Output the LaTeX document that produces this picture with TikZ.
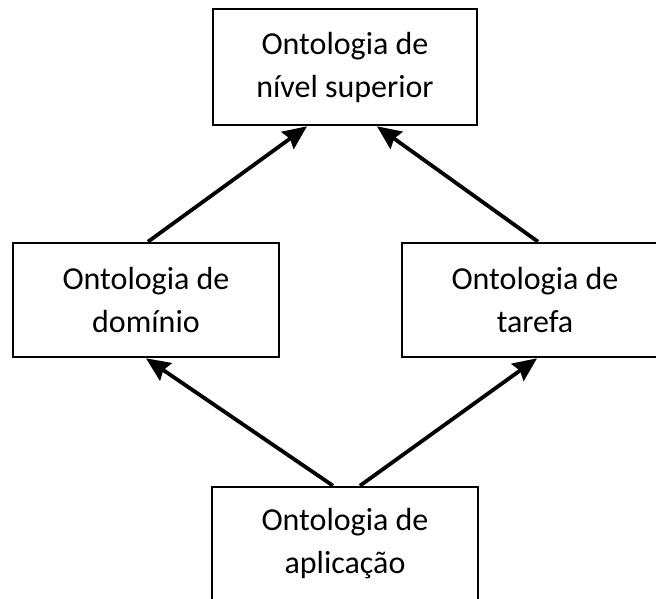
\documentclass[tikz,border=0pt]{standalone}
\usepackage{fontspec}
\setmainfont{Carlito}
\usetikzlibrary{arrows.meta,calc}
\begin{document}
\begin{tikzpicture}[x=1pt,y=-1pt,
  box/.style={draw=black,line width=2.6pt,fill=white,inner sep=0pt,align=center,
    font=\fontsize{32}{43}\selectfont},
  arr/.style={line width=3.8pt,-{Stealth[length=24pt,width=21pt,inset=3pt]}}]
\useasboundingbox (0,0) rectangle (656,599);
\node[box,minimum width=264pt,minimum height=116pt] (top) at (345,67) {Ontologia de\\nível superior};
\node[box,minimum width=266pt,minimum height=114pt] (dom) at (146,300) {Ontologia de\\domínio};
\node[box,minimum width=266pt,minimum height=114pt] (taf) at (535,300) {Ontologia de\\tarefa};
\node[box,minimum width=266pt,minimum height=114pt] (app) at (345,544) {Ontologia de\\aplicação};
\draw[arr] ($(dom.north)+(2,0)$) -- ($(top.south)+(-38,0)$);
\draw[arr] ($(taf.north)+(3,0)$) -- ($(top.south)+(32,0)$);
\draw[arr] ($(app.north)+(-12,0)$) -- (dom.south);
\draw[arr] ($(app.north)+(15,0)$) -- ($(taf.south)+(2,0)$);
\end{tikzpicture}
\end{document}
